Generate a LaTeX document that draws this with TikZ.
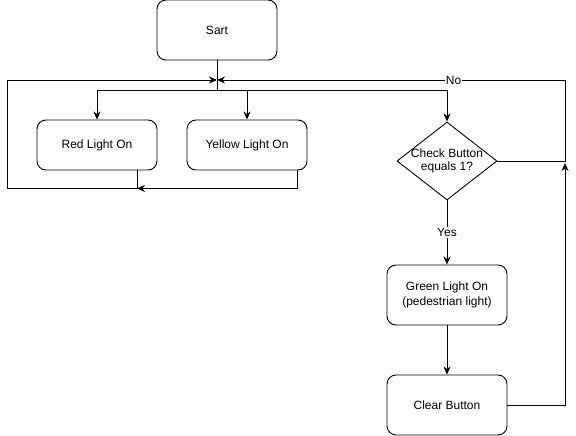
\documentclass[tikz,border=0pt]{standalone}
\usepackage{fontspec}
\setmainfont{Liberation Sans}
\usetikzlibrary{arrows.meta,shapes.geometric,calc}
\begin{document}
\begin{tikzpicture}[x=1pt,y=1pt,
  every node/.style={font=\fontsize{12}{15}\selectfont},
  box/.style={draw, line width=0.9pt, rounded corners=9pt, minimum width=120pt, inner sep=0pt, align=center},
  dec/.style={draw, line width=0.9pt, diamond, minimum width=100pt, minimum height=78pt, inner sep=0pt},
  arr/.style={line width=0.9pt, -{Stealth[length=8pt,width=7pt,inset=2.5pt]}},
  ln/.style={line width=0.9pt},
  lbl/.style={fill=white, inner sep=1pt}]
\useasboundingbox (0,0) rectangle (576,-436);
\node[box, minimum height=60pt] (start) at (217,-30) {Sart};
\node[box, minimum height=50pt] (red) at (97,-145) {Red Light On};
\node[box, minimum height=50pt] (yellow) at (247,-145) {Yellow Light On};
\node[dec] (dia) at (447,-161) {};
\node[align=center, font=\fontsize{12}{13.5}\selectfont] (diatext) at (dia.center) {Check Button\\equals 1?};
\node[box, minimum height=60pt] (green) at (447,-295) {Green Light On\\(pedestrian light)};
\node[box, minimum height=60pt] (clear) at (447,-405) {Clear Button};
\coordinate (m) at (217,-80);
\coordinate (c) at (565,-161);
\draw[ln] (start.south) -- ++(0,-30) coordinate (j);
\draw[arr] (j) -| (red.north);
\draw[arr] (j) -| (yellow.north);
\draw[arr] (j) -| (dia.north);
\draw[arr] ([xshift=40pt]red.south) -- ++(0,-18) coordinate (rb) -| (7,-80) -- (m);
\draw[arr] ([xshift=50pt]yellow.south) |- (rb);
\draw[arr] (dia.east) -- (c) -- (565,-80) -- node[pos=0.32, lbl]{No} (m);
\draw[arr] (dia.south) -- node[lbl]{Yes} (green.north);
\draw[arr] (green.south) -- (clear.north);
\draw[arr] (clear.east) -| ([yshift=-2pt]c);
\end{tikzpicture}
\end{document}
